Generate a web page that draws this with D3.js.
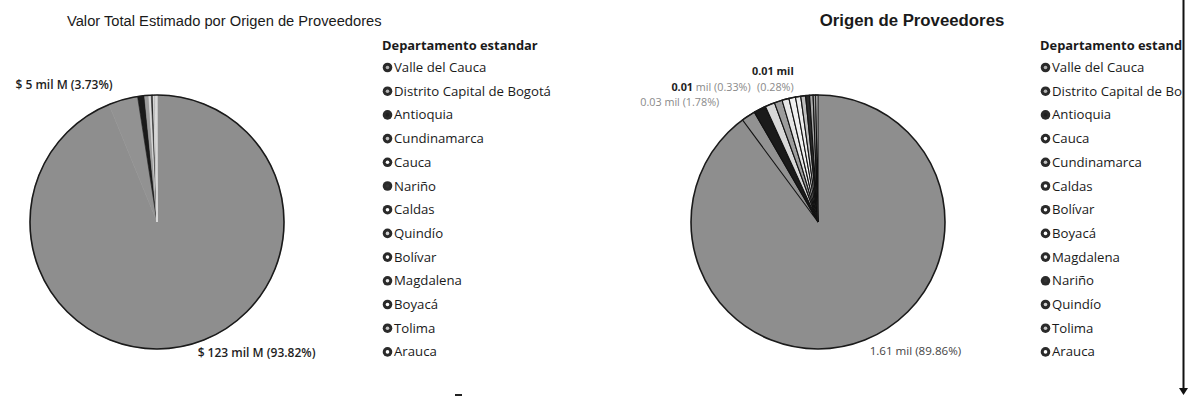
<!DOCTYPE html>
<html lang="es">
<head>
<meta charset="utf-8">
<title>Origen de Proveedores</title>
<script src="https://cdn.jsdelivr.net/npm/d3@7"></script>
<style>
  html, body { margin: 0; padding: 0; background: #ffffff; }
  svg { display: block; }
  .title-left { font-family: "Liberation Sans", Arial, sans-serif; font-size: 14.7px; fill: #1a1a1a; }
  .title-right { font-family: "Liberation Sans", Arial, sans-serif; font-size: 16.8px; font-weight: bold; fill: #1a1a1a; }
  .legend-head { font-family: "Open Sans", sans-serif; font-size: 12.9px; font-weight: 700; fill: #1a1a1a; }
  .legend-item { font-family: "Open Sans", sans-serif; font-size: 13.2px; fill: #1a1a1a; }
  .lbl { font-family: "Open Sans", sans-serif; font-size: 12px; }
  .lbl-r { font-family: "Open Sans", sans-serif; font-size: 10.8px; }
  .lbl-r.big { font-size: 11.6px; }
</style>
</head>
<body>
<div id="chart"></div>
<script>
// Valor total estimado (miles de millones de pesos) por departamento de origen
const departamentosValor = [
  "Valle del Cauca", "Distrito Capital de Bogotá", "Antioquia", "Cundinamarca",
  "Cauca", "Nariño", "Caldas", "Quindío", "Bolívar", "Magdalena", "Boyacá",
  "Tolima", "Arauca"
];
const valorMilM = [123.0, 4.89, 1.16, 0.70, 0.40, 0.30, 0.20, 0.15, 0.10, 0.08, 0.06, 0.04, 0.02];

// Número de proveedores por departamento de origen
const departamentosCantidad = [
  "Valle del Cauca", "Distrito Capital de Bogotá", "Antioquia", "Cauca",
  "Cundinamarca", "Caldas", "Bolívar", "Boyacá", "Magdalena", "Nariño",
  "Quindío", "Tolima", "Arauca"
];
const cantidadProveedores = [1613, 32, 28, 22, 18, 16, 15, 12, 11, 9, 8, 6, 5];

const tituloValor = "Valor Total Estimado por Origen de Proveedores";
const tituloCantidad = "Origen de Proveedores";
const tituloLeyenda = "Departamento estandar";

// Gray tones per department
const tonos = {
  "Valle del Cauca": "#8e8e8e",
  "Distrito Capital de Bogotá": "#929292",
  "Antioquia": "#1a1a1a",
  "Cundinamarca": "#9c9c9c",
  "Cauca": "#d8d8d8",
  "Nariño": "#2a2a2a",
  "Caldas": "#e6e6e6",
  "Quindío": "#a8a8a8",
  "Bolívar": "#f0f0f0",
  "Magdalena": "#bdbdbd",
  "Boyacá": "#ececec",
  "Tolima": "#a0a0a0",
  "Arauca": "#f4f4f4"
};

const W = 1189, H = 401;
const svg = d3.select("#chart").append("svg").attr("width", W).attr("height", H);

const radius = 127;
const pctFmt = d3.format(".2%");

// sep > 0: dark separators between small slices; sep = 0: slices blend seamlessly
function drawPie(g, names, values, cx, cy, sep) {
  const data = names.map((n, i) => ({ name: n, value: values[i] }));
  const pie = d3.pie().sort(null).value(d => d.value);
  const arcs = pie(data);
  const arc = d3.arc().innerRadius(0).outerRadius(radius);
  const pg = g.append("g").attr("transform", `translate(${cx},${cy})`);
  pg.selectAll("path.slice").data(arcs).join("path")
    .attr("class", "slice")
    .attr("d", arc)
    .attr("fill", d => tonos[d.data.name])
    .attr("stroke", d => (sep > 0 && d.index > 0 ? "#111" : tonos[d.data.name]))
    .attr("stroke-width", d => (sep > 0 ? (d.index === 0 ? 0 : sep) : 0.6));
  pg.append("circle").attr("r", radius).attr("fill", "none")
    .attr("stroke", "#1a1a1a").attr("stroke-width", 1.6);
  return { arcs, pg };
}

function labelPoint(d, extra) {
  const a = (d.startAngle + d.endAngle) / 2;
  const r = radius + extra;
  return [Math.sin(a) * r, -Math.cos(a) * r];
}

function drawLegend(g, names, x, y) {
  const lg = g.append("g").attr("transform", `translate(${x},${y})`);
  lg.append("text").attr("class", "legend-head").attr("x", 0).attr("y", 0).text(tituloLeyenda);
  const rows = lg.selectAll("g.row").data(names).join("g")
    .attr("class", "row")
    .attr("transform", (d, i) => `translate(0,${22 + i * 23.7})`);
  rows.append("circle").attr("cx", 5.5).attr("cy", -4.5).attr("r", 4.8)
    .attr("fill", "#2a2a2a");
  rows.append("circle").attr("cx", 5.5).attr("cy", -4.5).attr("r", 1.8)
    .attr("fill", d => d3.color(tonos[d]).brighter(0.6));
  rows.append("text").attr("class", "legend-item").attr("x", 12).attr("y", 0).text(d => d);
}

// ---------- Panel izquierdo: valor total estimado ----------
const left = svg.append("g");
left.append("text").attr("class", "title-left").attr("x", 67).attr("y", 26).text(tituloValor);
const pv = drawPie(left, departamentosValor, valorMilM, 157, 222, 0);
const totalValor = d3.sum(valorMilM);
const valLabel = d => `$ ${d3.format(".0f")(d.value)} mil M (${pctFmt(d.value / totalValor)})`;
{
  const a0 = pv.arcs[0];
  const [x0, y0] = labelPoint(a0, 6);
  pv.pg.append("text").attr("class", "lbl").attr("x", x0 + 15).attr("y", y0 + 4)
    .attr("fill", "#1e1e1e").attr("font-weight", 600).text(valLabel(a0));
  const a1 = pv.arcs[1];
  const [x1, y1] = labelPoint(a1, 20);
  pv.pg.append("text").attr("class", "lbl").attr("x", x1 - 5).attr("y", y1 + 9)
    .attr("text-anchor", "end").attr("fill", "#1e1e1e").attr("font-weight", 600).text(valLabel(a1));
}
drawLegend(left, departamentosValor, 382, 50);
// small mark under the left panel
left.append("line").attr("x1", 455).attr("x2", 462).attr("y1", 395).attr("y2", 395)
  .attr("stroke", "#222").attr("stroke-width", 2);

// ---------- Panel derecho: cantidad de proveedores ----------
const right = svg.append("g");
const clip = svg.append("clipPath").attr("id", "recorte");
clip.append("rect").attr("x", 0).attr("y", 0).attr("width", 1182).attr("height", H);
right.attr("clip-path", "url(#recorte)");
right.append("text").attr("class", "title-right").attr("x", 912).attr("y", 26)
  .attr("text-anchor", "middle").text(tituloCantidad);
const pc = drawPie(right, departamentosCantidad, cantidadProveedores, 818, 222, 1.1);
const totalCant = d3.sum(cantidadProveedores);
const milFmt = v => `${d3.format(".2f")(v / 1000)} mil`;
{
  const n = pc.arcs.length;
  // mayor
  const a0 = pc.arcs[0];
  const [x0, y0] = labelPoint(a0, 6);
  pc.pg.append("text").attr("class", "lbl-r big").attr("x", x0 + 10).attr("y", y0 + 7)
    .attr("fill", "#444").text(`${milFmt(a0.value)} (${pctFmt(a0.value / totalCant)})`);
  // segundo
  const a1 = pc.arcs[1];
  const [x1, y1] = labelPoint(a1, 20);
  pc.pg.append("text").attr("class", "lbl-r").attr("x", x1 - 18).attr("y", y1 + 7)
    .attr("text-anchor", "end").attr("fill", "#8a8a8a").text(`${milFmt(a1.value)} (${pctFmt(a1.value / totalCant)})`);
  // dos menores, etiquetas superpuestas
  const aU = pc.arcs[n - 1];
  const [xu, yu] = labelPoint(aU, 20);
  pc.pg.append("text").attr("class", "lbl-r").attr("x", xu - 23).attr("y", yu)
    .attr("text-anchor", "end").attr("fill", "#1e1e1e").attr("font-weight", 700).text(milFmt(aU.value));
  pc.pg.append("text").attr("class", "lbl-r").attr("x", xu - 23).attr("y", yu + 16)
    .attr("text-anchor", "end").attr("fill", "#8a8a8a").text(`(${pctFmt(aU.value / totalCant)})`);
  const aP = pc.arcs[n - 2];
  const t = pc.pg.append("text").attr("class", "lbl-r").attr("x", xu - 66).attr("y", yu + 16)
    .attr("text-anchor", "end");
  const parts = milFmt(aP.value).split(" ");
  t.append("tspan").attr("fill", "#1e1e1e").attr("font-weight", 700).text(parts[0]);
  t.append("tspan").attr("fill", "#8a8a8a").text(` ${parts[1]} (${pctFmt(aP.value / totalCant)})`);
}
drawLegend(right, departamentosCantidad, 1040, 50);

// right-hand frame edge
svg.append("line").attr("x1", 1183.5).attr("x2", 1183.5).attr("y1", 0).attr("y2", 392)
  .attr("stroke", "#111").attr("stroke-width", 2);
svg.append("path").attr("d", "M1179,388 L1188,388 L1183.5,395 Z").attr("fill", "#111");
</script>
</body>
</html>
